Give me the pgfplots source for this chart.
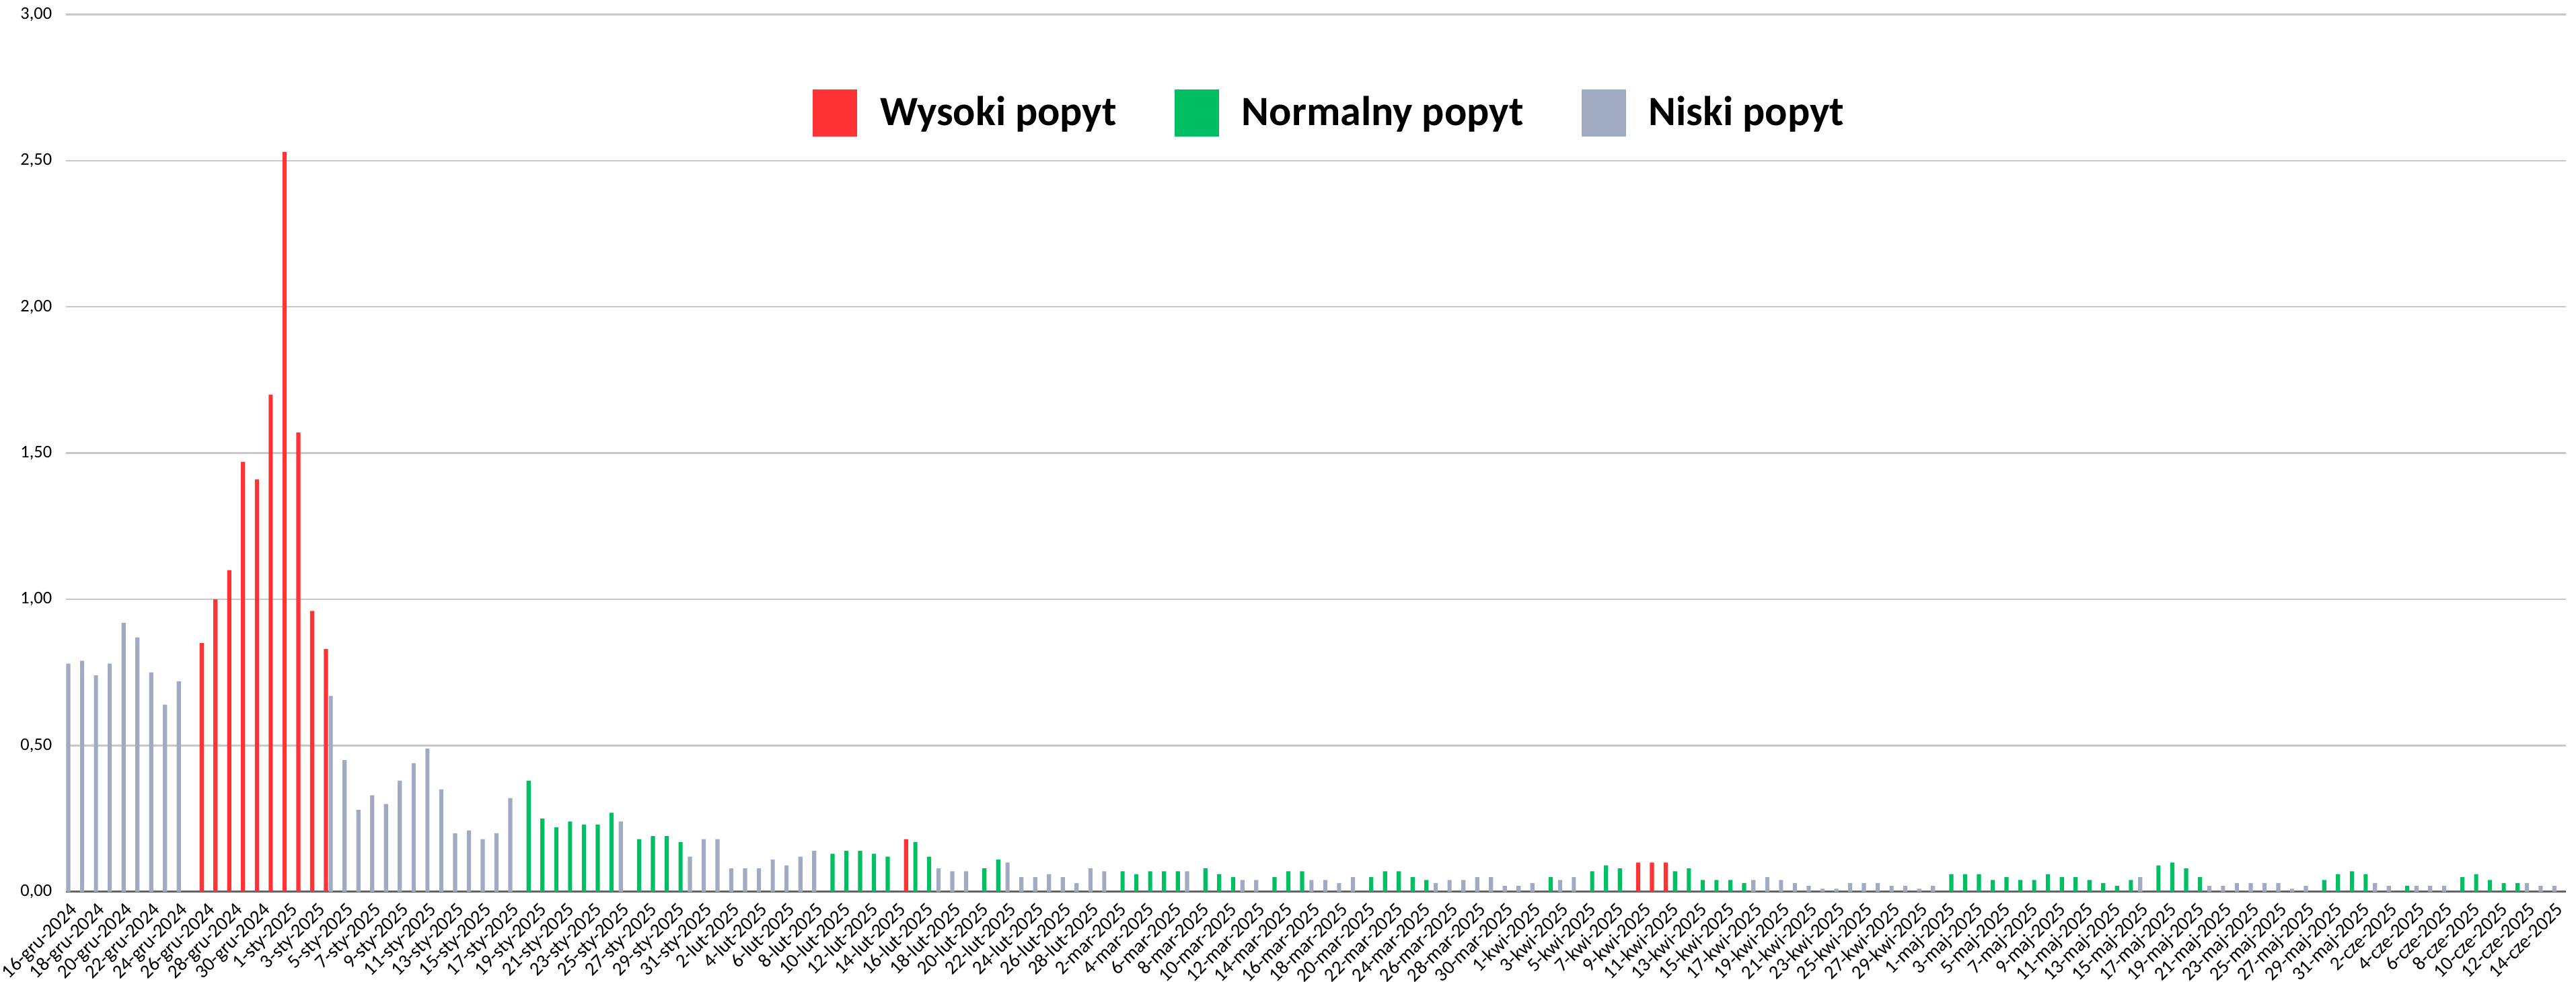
\documentclass[border=0pt]{standalone}
\usepackage{fontspec}
\setmainfont{Carlito}
\usepackage{pgfplots}
\pgfplotsset{compat=1.18}

\definecolor{wysoki}{RGB}{255,51,51}
\definecolor{normalny}{RGB}{0,191,99}
\definecolor{niski}{RGB}{160,170,192}
\definecolor{gridgray}{RGB}{200,200,200}
\definecolor{axisgray}{RGB}{100,100,100}

\begin{document}
\begin{tikzpicture}
\useasboundingbox (0,0) rectangle (957.25pt,364.75pt);
\begin{axis}[
    at={(24.5pt,33.3pt)},
    anchor=south west,
    scale only axis,
    width=929pt,
    height=326.1pt,
    xmin=-0.5, xmax=180.5,
    ymin=0, ymax=3,
    axis lines*=left,
    y axis line style={draw=none},
    x axis line style={draw=axisgray, line width=0.75pt},
    tick style={draw=none},
    ymajorgrids,
    grid style={draw=gridgray, line width=0.6pt},
    ytick={0,0.5,...,3},
    yticklabel style={
        font=\fontsize{6.6pt}{8pt}\selectfont,
        anchor=east, inner sep=0pt, xshift=-5pt,
        /pgf/number format/fixed,
        /pgf/number format/fixed zerofill,
        /pgf/number format/precision=2,
        /pgf/number format/use comma,
        /pgf/number format/assume math mode=true,
    },
    xtick={0,2,...,180},
    xticklabels={
        16-gru-2024,18-gru-2024,20-gru-2024,22-gru-2024,24-gru-2024,26-gru-2024,28-gru-2024,30-gru-2024,
        1-sty-2025,3-sty-2025,5-sty-2025,7-sty-2025,9-sty-2025,11-sty-2025,13-sty-2025,15-sty-2025,
        17-sty-2025,19-sty-2025,21-sty-2025,23-sty-2025,25-sty-2025,27-sty-2025,29-sty-2025,31-sty-2025,
        2-lut-2025,4-lut-2025,6-lut-2025,8-lut-2025,10-lut-2025,12-lut-2025,14-lut-2025,
        16-lut-2025,18-lut-2025,20-lut-2025,22-lut-2025,24-lut-2025,26-lut-2025,28-lut-2025,
        2-mar-2025,4-mar-2025,6-mar-2025,8-mar-2025,10-mar-2025,12-mar-2025,14-mar-2025,16-mar-2025,
        18-mar-2025,20-mar-2025,22-mar-2025,24-mar-2025,26-mar-2025,28-mar-2025,30-mar-2025,
        1-kwi-2025,3-kwi-2025,5-kwi-2025,7-kwi-2025,9-kwi-2025,11-kwi-2025,13-kwi-2025,15-kwi-2025,
        17-kwi-2025,19-kwi-2025,21-kwi-2025,23-kwi-2025,25-kwi-2025,27-kwi-2025,29-kwi-2025,
        1-maj-2025,3-maj-2025,5-maj-2025,7-maj-2025,9-maj-2025,11-maj-2025,13-maj-2025,15-maj-2025,
        17-maj-2025,19-maj-2025,21-maj-2025,23-maj-2025,25-maj-2025,27-maj-2025,29-maj-2025,31-maj-2025,
        2-cze-2025,4-cze-2025,6-cze-2025,8-cze-2025,10-cze-2025,12-cze-2025,14-cze-2025
    },
    xticklabel style={font=\fontsize{7.2pt}{8pt}\selectfont,
        xshift=2pt, yshift=-7pt, rotate=45, anchor=base east, inner sep=0pt},
    legend columns=3,
    legend style={
        at={(0.505,0.888)}, anchor=center,
        draw=none, fill=none, inner sep=0pt,
        font=\fontsize{15.5pt}{18pt}\selectfont\bfseries,
        nodes={inner sep=0pt},
        /tikz/every odd column/.append style={column sep=8.5pt},
        /tikz/every even column/.append style={column sep=21.5pt},
    },
    legend image code/.code={\fill[#1] (0pt,-8.75pt) rectangle (16.5pt,8.75pt);},
]
% Wysoki popyt
\addplot[ybar, bar width=0.3, bar shift=0.326, fill=wysoki, draw=none] coordinates {
    (9,0.85)(10,1.00)(11,1.10)(12,1.47)(13,1.41)(14,1.70)(15,2.53)(16,1.57)(17,0.96)(18,0.83)
    (60,0.18)
    (113,0.10)(114,0.10)(115,0.10)
};
\addlegendentry{Wysoki popyt}
% Normalny popyt
\addplot[ybar, bar width=0.3, bar shift=0, fill=normalny, draw=none] coordinates {
    (33,0.38)(34,0.25)(35,0.22)(36,0.24)(37,0.23)(38,0.23)(39,0.27)
    (41,0.18)(42,0.19)(43,0.19)(44,0.17)
    (55,0.13)(56,0.14)(57,0.14)(58,0.13)(59,0.12)
    (61,0.17)(62,0.12)
    (66,0.08)(67,0.11)
    (76,0.07)(77,0.06)(78,0.07)(79,0.07)(80,0.07)
    (82,0.08)(83,0.06)(84,0.05)
    (87,0.05)(88,0.07)(89,0.07)
    (94,0.05)(95,0.07)(96,0.07)(97,0.05)(98,0.04)
    (107,0.05)
    (110,0.07)(111,0.09)(112,0.08)
    (116,0.07)(117,0.08)(118,0.04)(119,0.04)(120,0.04)(121,0.03)
    (136,0.06)(137,0.06)(138,0.06)(139,0.04)(140,0.05)(141,0.04)(142,0.04)
    (143,0.06)(144,0.05)(145,0.05)(146,0.04)(147,0.03)(148,0.02)(149,0.04)
    (151,0.09)(152,0.10)(153,0.08)(154,0.05)
    (163,0.04)(164,0.06)(165,0.07)(166,0.06)
    (169,0.02)
    (173,0.05)(174,0.06)(175,0.04)(176,0.03)(177,0.03)
};
\addlegendentry{Normalny popyt}
% Niski popyt
\addplot[ybar, bar width=0.3, bar shift=-0.326, fill=niski, draw=none] coordinates {
    (0,0.78)(1,0.79)(2,0.74)(3,0.78)(4,0.92)(5,0.87)(6,0.75)(7,0.64)(8,0.72)
    (19,0.67)(20,0.45)(21,0.28)(22,0.33)(23,0.30)(24,0.38)(25,0.44)(26,0.49)
    (27,0.35)(28,0.20)(29,0.21)(30,0.18)(31,0.20)(32,0.32)
    (40,0.24)
    (45,0.12)(46,0.18)(47,0.18)(48,0.08)(49,0.08)(50,0.08)(51,0.11)(52,0.09)(53,0.12)(54,0.14)
    (63,0.08)(64,0.07)(65,0.07)
    (68,0.10)(69,0.05)(70,0.05)(71,0.06)(72,0.05)(73,0.03)(74,0.08)(75,0.07)
    (81,0.07)
    (85,0.04)(86,0.04)
    (90,0.04)(91,0.04)(92,0.03)(93,0.05)
    (99,0.03)(100,0.04)(101,0.04)(102,0.05)(103,0.05)(104,0.02)(105,0.02)(106,0.03)
    (108,0.04)(109,0.05)
    (122,0.04)(123,0.05)(124,0.04)(125,0.03)(126,0.02)(127,0.01)(128,0.01)
    (129,0.03)(130,0.03)(131,0.03)(132,0.02)(133,0.02)(134,0.01)(135,0.02)
    (150,0.05)
    (155,0.02)(156,0.02)(157,0.03)(158,0.03)(159,0.03)(160,0.03)(161,0.01)(162,0.02)
    (167,0.03)(168,0.02)
    (170,0.02)(171,0.02)(172,0.02)
    (178,0.03)(179,0.02)(180,0.02)
};
\addlegendentry{Niski popyt}
\end{axis}
\end{tikzpicture}
\end{document}
